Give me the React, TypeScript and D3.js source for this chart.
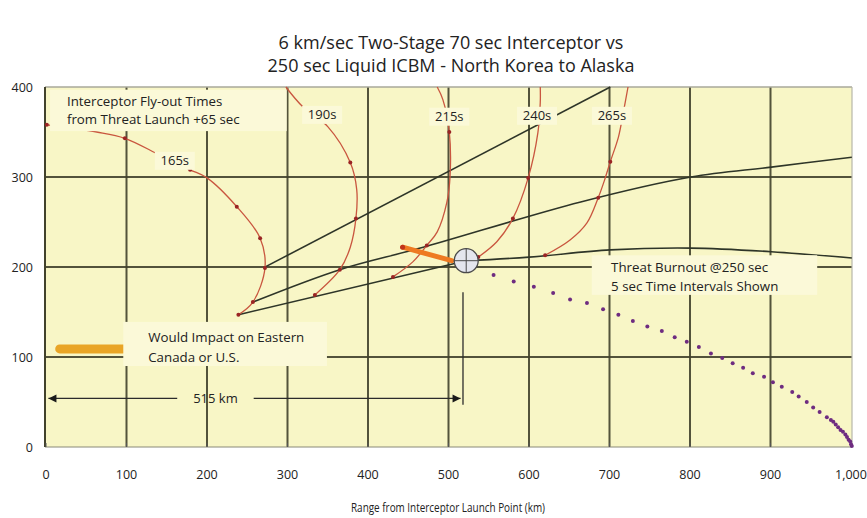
import React from "react";
import * as d3 from "d3";

// ---------- data ----------
const titleLines = [
  "6 km/sec Two-Stage 70 sec Interceptor vs",
  "250 sec Liquid ICBM - North Korea to Alaska",
];
const xAxisTitle = "Range from Interceptor Launch Point (km)";
const xTicks = [0, 100, 200, 300, 400, 500, 600, 700, 800, 900, 1000];
const xTickLabels = ["0", "100", "200", "300", "400", "500", "600", "700", "800", "900", "1,000"];
const yTicks = [0, 100, 200, 300, 400];
const yTickLabels = ["0", "100", "200", "300", "400"];

// interceptor fly-out time contours [range km, altitude km]
const curve165: [number, number][] = [[1, 358], [63, 350], [98, 343], [142, 324], [179, 308], [200, 299], [237, 267], [266, 232], [272, 199], [257, 161], [239, 147]];
const curve190: [number, number][] = [[298, 400], [319, 378], [350, 356], [378, 316], [386, 286], [385, 254], [378, 222], [365, 197], [334, 169]];
const curve215: [number, number][] = [[486, 400], [493, 386], [501, 350], [502, 302], [498, 272], [486, 239], [473, 224], [456, 206], [431, 189]];
const curve240: [number, number][] = [[614, 400], [614, 383], [611, 349], [599, 299], [580, 254], [560, 228], [537, 211]];
const curve265: [number, number][] = [[723, 400], [717, 371], [711, 344], [701, 317], [694, 297], [686, 277], [672, 249], [651, 230], [620, 213]];
const curveLabels = ["165s", "190s", "215s", "240s", "265s"];
const curveLabelPos: [number, number][] = [[160, 318], [343, 369], [501, 367], [610, 368], [703, 368]];

const markers165: [number, number][] = [[1, 358], [98, 343], [179, 308], [237, 267], [266, 232], [272, 199], [257, 161], [239, 147]];
const markers190: [number, number][] = [[378, 316], [385, 254], [365, 197], [334, 169]];
const markers215: [number, number][] = [[501, 350], [473, 224], [431, 189]];
const markers240: [number, number][] = [[599, 299], [580, 254], [537, 211]];
const markers265: [number, number][] = [[701, 317], [686, 277], [620, 213]];

// black trajectory lines
const lineA: [number, number][] = [[270, 199], [701, 400]];
const lineB: [number, number][] = [[257, 161], [365, 197], [465, 221], [663, 272], [801, 300], [901, 311], [1001, 322]];
const lineC: [number, number][] = [[239, 147], [522, 207]];
const postBurnout: [number, number][] = [[522, 207], [600, 211], [701, 219], [801, 221], [901, 217], [1001, 210]];

// orange segment and legend bar
const orangeSegment: [number, number][] = [[443, 222], [504, 207]];
const orangeBar: [number, number][] = [[17, 109], [96, 109]];

// threat burnout point
const burnout: [number, number] = [522, 207];

// threat trajectory after burnout (5 sec intervals)
const threatDots: [number, number][] = [
  [556, 191], [581, 184], [606, 178], [630, 171], [651, 164], [672, 160], [692, 153], [711, 147],
  [729, 140], [747, 134], [765, 129], [781, 122], [796, 117], [811, 111], [826, 104], [840, 99],
  [853, 93], [866, 88], [878, 82], [892, 78], [903, 72], [914, 67], [927, 61], [935, 56],
  [945, 50], [953, 44], [961, 39], [970, 33], [975, 30], [978, 28], [981, 25], [984, 22], [987, 19],
  [990, 17], [993, 14], [995, 11], [997, 8], [999, 6], [1000, 3], [1001, 1],
];

// 515 km dimension
const dimAlt = 54;
const dimStart = 3;
const dimEnd = 515;
const dimGap: [number, number] = [163, 258];
const dimLabel = "515 km";
const dimVertical: [number, number][] = [[518, 172], [518, 47]];

const noteInterceptor = ["Interceptor Fly-out Times", "from Threat Launch +65 sec"];
const noteImpact = ["Would Impact on Eastern", "Canada or U.S."];
const noteBurnout = ["Threat Burnout @250 sec", "5 sec Time Intervals Shown"];

// ---------- component ----------
const W = 867;
const H = 518;
const FONT = "'Open Sans', 'Noto Sans', sans-serif";

export default function App() {
  const x = d3.scaleLinear().domain([0, 1000]).range([46, 851]);
  const y = d3.scaleLinear().domain([0, 400]).range([447, 87]);

  const smooth = d3
    .line<[number, number]>()
    .x((d) => x(d[0]))
    .y((d) => y(d[1]))
    .curve(d3.curveCatmullRom.alpha(0.5));
  const straight = d3
    .line<[number, number]>()
    .x((d) => x(d[0]))
    .y((d) => y(d[1]));

  const plotL = 45;
  const plotR = 852;
  const plotT = y(400);
  const plotB = y(0);

  const gridColor = "#42422c";
  const lineColor = "#2e3528";
  const redColor = "#c9563f";
  const redDot = "#9a2424";

  const curves = [curve165, curve190, curve215, curve240, curve265];
  const markers = [markers165, markers190, markers215, markers240, markers265];

  const box = (x0: number, y0: number, x1: number, y1: number, key: string) => (
    <rect key={key} x={x(x0)} y={y(y1)} width={x(x1) - x(x0)} height={y(y0) - y(y1)} fill="#fbf9d8" />
  );

  const bx = x(burnout[0]);
  const by = y(burnout[1]);
  const r = 12;

  const dimY = y(dimAlt);

  return (
    <svg width={W} height={H} style={{ display: "block", position: "absolute", left: 0, top: 0, background: "#fff" }} fontFamily={FONT}>
      {/* title */}
      {titleLines.map((t, i) => (
        <text key={t} x={451} y={49 + i * 23} textAnchor="middle" fontSize={18} fill="#222">
          {t}
        </text>
      ))}

      {/* plot background */}
      <rect x={plotL} y={plotT} width={plotR - plotL} height={plotB - plotT} fill="#f8f6c6" />

      {/* grid */}
      {xTicks.slice(1, -1).map((t) => (
        <line key={"gx" + t} x1={x(t)} x2={x(t)} y1={plotT} y2={plotB} stroke={gridColor} strokeWidth={2} opacity={0.9} />
      ))}
      {yTicks.slice(1, -1).map((t) => (
        <line key={"gy" + t} x1={plotL} x2={plotR} y1={y(t)} y2={y(t)} stroke={gridColor} strokeWidth={2} opacity={0.9} />
      ))}
      {/* frame */}
      <line x1={plotL} x2={plotR} y1={plotT} y2={plotT} stroke="#a9a99a" strokeWidth={1.5} />
      <line x1={plotR} x2={plotR} y1={plotT} y2={plotB} stroke="#b8b8aa" strokeWidth={1.2} />
      <line x1={plotL} x2={plotR} y1={plotB} y2={plotB} stroke="#8a8a78" strokeWidth={1.2} />
      <line x1={plotL} x2={plotL} y1={plotT} y2={plotB} stroke={gridColor} strokeWidth={2} />
      {xTicks.map((t) => (
        <line key={"tb" + t} x1={x(t)} x2={x(t)} y1={plotB - 4} y2={plotB} stroke="#555" strokeWidth={1} />
      ))}

      {/* tick labels */}
      {xTicks.map((t, i) => (
        <text key={"xl" + t} x={x(t)} y={479} textAnchor="middle" fontSize={12.5} fill="#222">
          {xTickLabels[i]}
        </text>
      ))}
      {yTicks.map((t, i) => (
        <text key={"yl" + t} x={33} y={y(t) + 4.5} textAnchor="end" fontSize={12.5} fill="#222">
          {yTickLabels[i]}
        </text>
      ))}
      <text x={448} y={512} textAnchor="middle" fontSize={13.5} fill="#222" textLength={194} lengthAdjust="spacingAndGlyphs">
        {xAxisTitle}
      </text>

      {/* black trajectory lines */}
      <path d={straight(lineA) || ""} fill="none" stroke={lineColor} strokeWidth={1.6} />
      <path d={smooth(lineB) || ""} fill="none" stroke={lineColor} strokeWidth={1.6} />
      <path d={straight(lineC) || ""} fill="none" stroke={lineColor} strokeWidth={1.6} />
      <path d={smooth(postBurnout) || ""} fill="none" stroke={lineColor} strokeWidth={1.6} />

      {/* fly-out time contours */}
      {curves.map((c, i) => (
        <path key={"c" + i} d={smooth(c) || ""} fill="none" stroke={redColor} strokeWidth={1.3} />
      ))}
      {markers.map((m, i) =>
        m.map((p, j) => <circle key={"m" + i + "-" + j} cx={x(p[0])} cy={y(p[1])} r={2} fill={redDot} />)
      )}

      {/* orange segment */}
      <path d={straight(orangeSegment) || ""} stroke="#ee7a22" strokeWidth={5} strokeLinecap="round" fill="none" />
      <circle cx={x(orangeSegment[0][0])} cy={y(orangeSegment[0][1])} r={2.5} fill="#c0341c" />
      <path d={straight(orangeBar) || ""} stroke="#e9a526" strokeWidth={9} strokeLinecap="round" fill="none" />

      {/* threat dots */}
      {threatDots.map((p, i) => (
        <circle key={"td" + i} cx={x(p[0])} cy={y(p[1])} r={2} fill="#6e2c80" />
      ))}

      {/* burnout marker */}
      <circle cx={bx} cy={by} r={r} fill="#e4e6ee" stroke="#4a4a4a" strokeWidth={1.3} />
      <line x1={bx - r} x2={bx + r} y1={by} y2={by} stroke="#4a4a4a" strokeWidth={1} />
      <line x1={bx} x2={bx} y1={by - r} y2={by + r} stroke="#4a4a4a" strokeWidth={1} />

      {/* 515 km dimension */}
      <line x1={x(dimStart)} x2={x(dimGap[0])} y1={dimY} y2={dimY} stroke="#2b2b2b" strokeWidth={1.4} />
      <line x1={x(dimGap[1])} x2={x(dimEnd)} y1={dimY} y2={dimY} stroke="#2b2b2b" strokeWidth={1.4} />
      <path d={`M${x(dimStart)},${dimY} l8,-4 l0,8 z`} fill="#1a1a1a" />
      <path d={`M${x(dimEnd)},${dimY} l-8,-4 l0,8 z`} fill="#1a1a1a" />
      <path d={straight(dimVertical) || ""} stroke="#2b2b2b" strokeWidth={1.3} fill="none" />
      <text x={(x(dimGap[0]) + x(dimGap[1])) / 2} y={dimY + 5} textAnchor="middle" fontSize={13} fill="#222">
        {dimLabel}
      </text>

      {/* annotation boxes */}
      {box(5, 351, 299, 397, "b1")}
      {box(96, 90, 349, 139, "b2")}
      {box(678, 169, 958, 213, "b3")}
      {noteInterceptor.map((t, i) => (
        <text key={"n1" + i} x={x(26)} y={y(379) + i * 18} fontSize={13.3} fill="#222">
          {t}
        </text>
      ))}
      {noteImpact.map((t, i) => (
        <text key={"n2" + i} x={x(127)} y={y(117) + i * 20} fontSize={13.3} fill="#222">
          {t}
        </text>
      ))}
      {noteBurnout.map((t, i) => (
        <text key={"n3" + i} x={x(702)} y={y(194) + i * 19} fontSize={13.3} fill="#222">
          {t}
        </text>
      ))}

      {/* curve labels */}
      {curveLabels.map((t, i) => {
        const cx = x(curveLabelPos[i][0]);
        const cy = y(curveLabelPos[i][1]);
        return (
          <g key={"cl" + i}>
            <rect x={cx - 20} y={cy - 9} width={40} height={18} fill="#fbf9d8" />
            <text x={cx} y={cy + 4.5} textAnchor="middle" fontSize={13} fill="#222">
              {t}
            </text>
          </g>
        );
      })}
    </svg>
  );
}
